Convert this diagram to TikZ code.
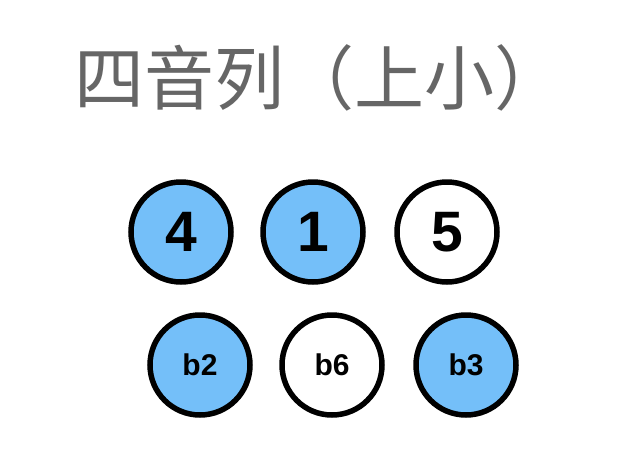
\documentclass[tikz,border=0pt]{standalone}
\usepackage{fontspec}
\setmainfont{Liberation Sans}
\newfontfamily\cjk{Noto Sans CJK SC}
\definecolor{fillblue}{HTML}{74BFF9}
\definecolor{titlegray}{HTML}{666666}
\begin{document}
\begin{tikzpicture}[x=1pt,y=-1pt,
  note/.style={circle,draw=black,line width=5.5pt,minimum size=100pt,inner sep=0pt},
  big/.style={font=\fontsize{57}{60}\selectfont\bfseries},
  small/.style={font=\fontsize{30}{32}\selectfont\bfseries},
  on/.style={fill=fillblue},
  off/.style={fill=white}]
\useasboundingbox[fill=white] (0,0) rectangle (631,474);
\node[text=titlegray,font=\cjk\fontsize{70}{72}\selectfont,anchor=west,inner sep=0pt] (title) at (74,78) {四音列（上小）};
\node[note,on,big] (n4) at (181,232) {4};
\node[note,on,big] (n1) at (313,232) {1};
\node[note,off,big] (n5) at (447,232) {5};
\node[note,on,small] (nb2) at (200,365) {b2};
\node[note,off,small] (nb6) at (332,365) {b6};
\node[note,on,small] (nb3) at (466,365) {b3};
\end{tikzpicture}
\end{document}
